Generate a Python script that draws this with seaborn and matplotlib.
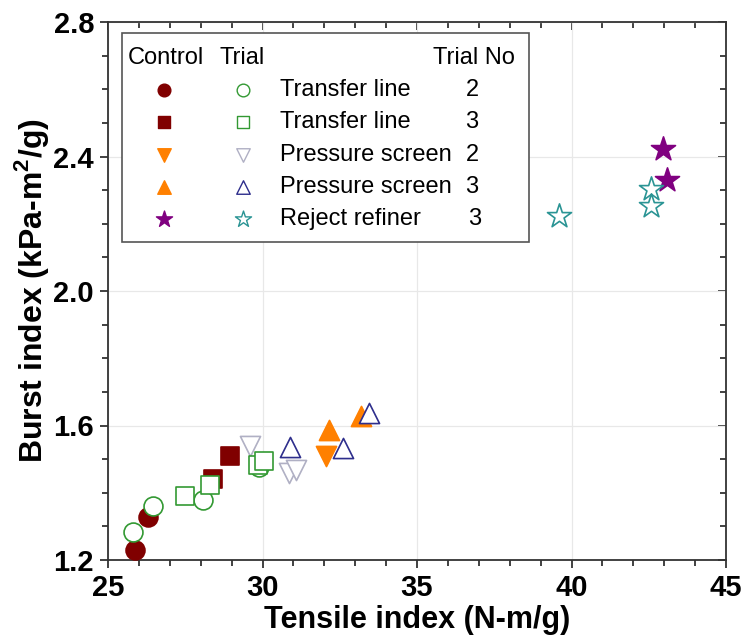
import matplotlib
matplotlib.use("Agg")
import matplotlib.pyplot as plt
from matplotlib.patches import Rectangle
from matplotlib.ticker import MultipleLocator
import numpy as np
import pandas as pd
import seaborn as sns

# ---- data: tensile index (N-m/g) vs burst index (kPa-m2/g) ----
ctrl_tl2_x = [25.87, 26.30]
ctrl_tl2_y = [1.230, 1.329]
trial_tl2_x = [25.80, 26.46, 28.07, 29.90]
trial_tl2_y = [1.283, 1.361, 1.379, 1.478]

ctrl_tl3_x = [28.40, 28.94]
ctrl_tl3_y = [1.441, 1.510]
trial_tl3_x = [27.48, 28.29, 29.85, 30.06]
trial_tl3_y = [1.391, 1.424, 1.484, 1.493]

ctrl_ps2_x = [32.05]
ctrl_ps2_y = [1.508]
trial_ps2_x = [29.60, 30.87, 31.09]
trial_ps2_y = [1.538, 1.459, 1.469]

ctrl_ps3_x = [32.16, 33.18]
ctrl_ps3_y = [1.588, 1.628]
trial_ps3_x = [30.90, 32.59, 33.45]
trial_ps3_y = [1.535, 1.533, 1.638]

ctrl_rr_x = [42.95, 43.08]
ctrl_rr_y = [2.422, 2.331]
trial_rr_x = [39.58, 42.56, 42.57]
trial_rr_y = [2.223, 2.304, 2.253]

locations = ["Transfer line", "Transfer line", "Pressure screen",
             "Pressure screen", "Reject refiner"]
trial_numbers = ["2", "3", "2", "3", "3"]

x_ticks = [25, 30, 35, 40, 45]
y_ticks = [1.2, 1.6, 2.0, 2.4, 2.8]

# ---- styling per series: name, x, y, marker, size, face, edge ----
series = [
    ("ctrl_tl2", ctrl_tl2_x, ctrl_tl2_y, "o", 185, "#800000", "#800000"),
    ("ctrl_tl3", ctrl_tl3_x, ctrl_tl3_y, "s", 160, "#800000", "#800000"),
    ("ctrl_ps2", ctrl_ps2_x, ctrl_ps2_y, "v", 210, "#ff8000", "#ff8000"),
    ("ctrl_ps3", ctrl_ps3_x, ctrl_ps3_y, "^", 210, "#ff8000", "#ff8000"),
    ("ctrl_rr", ctrl_rr_x, ctrl_rr_y, "*", 330, "#800080", "#800080"),
    ("trial_tl2", trial_tl2_x, trial_tl2_y, "o", 185, "white", "#339933"),
    ("trial_ps2", trial_ps2_x, trial_ps2_y, "v", 210, "white", "#b0b0c4"),
    ("trial_tl3", trial_tl3_x, trial_tl3_y, "s", 160, "white", "#339933"),
    ("trial_ps3", trial_ps3_x, trial_ps3_y, "^", 210, "white", "#2e2e8c"),
    ("trial_rr", trial_rr_x, trial_rr_y, "*", 330, "white", "#2a9494"),
]

sns.set_style("ticks")
plt.rcParams["font.family"] = ["Liberation Sans", "DejaVu Sans"]
plt.rcParams["text.color"] = "black"
plt.rcParams["axes.labelcolor"] = "black"
plt.rcParams["xtick.color"] = "#333333"
plt.rcParams["ytick.color"] = "#333333"
plt.rcParams["xtick.labelcolor"] = "black"
plt.rcParams["ytick.labelcolor"] = "black"
plt.rcParams["mathtext.fontset"] = "custom"
plt.rcParams["mathtext.rm"] = "Liberation Sans"
plt.rcParams["mathtext.bf"] = "Liberation Sans:bold"

fig = plt.figure(figsize=(7.48, 6.43), dpi=100)
ax = fig.add_axes([108 / 748, 83 / 643, 618 / 748, 538 / 643])

for name, xs, ys, mk, sz, fc, ec in series:
    df = pd.DataFrame({"tensile": xs, "burst": ys})
    sns.scatterplot(data=df, x="tensile", y="burst", ax=ax, marker=mk, s=sz,
                    color=fc, edgecolor=ec, linewidth=1.2, zorder=3,
                    legend=False)

ax.set_xlim(25, 45)
ax.set_ylim(1.2, 2.8)
ax.set_xticks(x_ticks)
ax.set_yticks(y_ticks)
ax.set_yticklabels([f"{v:.1f}" for v in y_ticks])
ax.xaxis.set_minor_locator(MultipleLocator(1))
ax.yaxis.set_minor_locator(MultipleLocator(0.1))
ax.grid(True, which="major", color="#e8e8e8", linewidth=0.9, zorder=0)
ax.set_axisbelow(True)

for sp in ax.spines.values():
    sp.set_visible(True)
    sp.set_color("#333333")
    sp.set_linewidth(1.3)

ax.tick_params(which="both", bottom=True, left=True, top=False, right=False)
ax.tick_params(which="major", direction="out", length=6, width=1.3,
               color="#333333", labelsize=21, pad=4)
ax.tick_params(which="minor", direction="out", length=4, width=1.3,
               color="#333333")
for lab in ax.get_xticklabels() + ax.get_yticklabels():
    lab.set_fontweight("bold")

# inward ticks on the top and right frame
top = ax.secondary_xaxis("top")
top.set_xticks(x_ticks)
top.xaxis.set_minor_locator(MultipleLocator(1))
top.tick_params(which="both", top=True, labeltop=False)
top.tick_params(which="major", direction="in", length=6, width=1.3,
                color="#333333")
top.tick_params(which="minor", direction="in", length=4, width=1.3,
                color="#333333")
top.spines["top"].set_visible(False)
right = ax.secondary_yaxis("right")
right.set_yticks(y_ticks)
right.yaxis.set_minor_locator(MultipleLocator(0.1))
right.tick_params(which="both", right=True, labelright=False)
right.tick_params(which="major", direction="in", length=6, width=1.3,
                  color="#333333")
right.tick_params(which="minor", direction="in", length=4, width=1.3,
                  color="#333333")
right.spines["right"].set_visible(False)

ax.set_xlabel("Tensile index (N-m/g)", fontsize=22, fontweight="bold",
              labelpad=2)
ax.set_ylabel(r"Burst index (kPa-m$^{\mathregular{2}}$/g)", fontsize=23,
              fontweight="bold", labelpad=2)

# ---- custom legend table ----
T = ax.transAxes
ax.add_patch(Rectangle((0.0227, 0.591), 0.6583, 0.3886, transform=T,
                       facecolor="white", edgecolor="#555555", lw=1.2,
                       zorder=5))
hdr_y = 0.933
ax.text(0.0324, hdr_y, "Control", transform=T, fontsize=17, va="center",
        ha="left", zorder=6)
ax.text(0.181, hdr_y, "Trial", transform=T, fontsize=17, va="center",
        ha="left", zorder=6)
ax.text(0.659, hdr_y, "Trial No", transform=T, fontsize=17, va="center",
        ha="right", zorder=6)

row_y = [0.8736, 0.814, 0.7528, 0.6933, 0.6338]
ctrl_style = series[:5]
trial_style = [series[5], series[7], series[6], series[8], series[9]]
num_x = [0.589, 0.589, 0.589, 0.589, 0.594]
for i, yy in enumerate(row_y):
    _, _, _, mk, sz, fc, ec = ctrl_style[i]
    ax.scatter([0.0906], [yy], transform=T, marker=mk, s=sz * 0.45,
               facecolor=fc, edgecolor=ec, linewidth=1.0, zorder=6)
    _, _, _, mk, sz, fc, ec = trial_style[i]
    ax.scatter([0.2184], [yy], transform=T, marker=mk, s=sz * 0.45,
               facecolor=fc, edgecolor=ec, linewidth=1.0, zorder=6)
    ax.text(0.2783, yy, locations[i], transform=T, fontsize=17,
            va="center", ha="left", zorder=6)
    ax.text(num_x[i], yy, trial_numbers[i], transform=T, fontsize=17,
            va="center", ha="center", zorder=6)

fig.savefig("out.png", dpi=100)
